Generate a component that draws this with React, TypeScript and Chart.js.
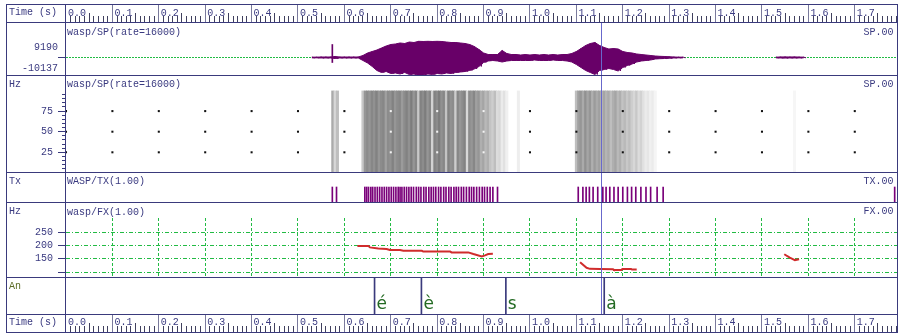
import { useEffect, useRef } from "react";
import { Chart, registerables } from "chart.js";

Chart.register(...registerables);

// ================= DATA =================
const majorTimes = [0, 0.1, 0.2, 0.3, 0.4, 0.5, 0.6, 0.7, 0.8, 0.9, 1.0, 1.1, 1.2, 1.3, 1.4, 1.5, 1.6, 1.7];
const majorLabels = ["0.0", "0.1", "0.2", "0.3", "0.4", "0.5", "0.6", "0.7", "0.8", "0.9", "1.0", "1.1", "1.2", "1.3", "1.4", "1.5", "1.6", "1.7"];
const timeMax = 1.791;
const cursorTime = 1.154;

// wasp/SP waveform envelope, 10 ms frames (upper / lower sample values)
const spFrameStart = 0.53;
const spFrameStep = 0.01;
const spUpper = [
  200, 200, 280, 280, 280, 570, 280, 280, 280, 280, 280,
  1140, 2560, 3410, 4260, 5400, 6530, 7380, 7670, 8240, 7950,
  8800, 8520, 9190, 9090, 9190, 9090, 9190, 9090, 8800, 8520,
  8520, 8240, 7950, 7380, 6250, 4540, 2560, 1700, 1700, 1700,
  3980, 2270, 1700, 1700, 1420, 1700, 1420, 1700, 1420, 1700,
  1420, 1700, 1420, 1700, 1700, 2270, 3410, 5110, 6820, 7950,
  8520, 6820, 5680, 4830, 5110, 4830, 3410, 2840, 2560, 1990,
  1700, 1420, 1140, 850, 680, 570, 450, 280, 200, 200,
];
const spLower = [
  -200, -200, -280, -280, -280, -570, -280, -280, -280, -280, -280,
  -1700, -3120, -5110, -7380, -8520, -7950, -9090, -8800, -9370, -8520,
  -9660, -9370, -10137, -9940, -9370, -9660, -9090, -9370, -8800, -9090,
  -8520, -8240, -7950, -7380, -6530, -5110, -2840, -1990, -1700, -1990,
  -2560, -1990, -1700, -1700, -1700, -1700, -1700, -1420, -1700, -1700,
  -1700, -1420, -1700, -1700, -1990, -2560, -3980, -5680, -7380, -8520,
  -9660, -7380, -6820, -6250, -6820, -7670, -5680, -4540, -3690, -2560,
  -1990, -1700, -1420, -850, -680, -570, -450, -280, -200, -200,
];
const spFrameStart2 = 1.53;
const spUpper2 = [200, 300, 340, 300, 340, 250, 200];
const spLower2 = [-200, -300, -340, -280, -300, -250, -200];
const spClickTime = 0.574;
const spClickRange = [-2840, 7380];
const spRangeLabels = [9190, -10137];

// Spectrogram: grey level of each 5 ms column
const specBin = 0.005;
const specStarts = [0.575, 0.64, 0.975, 1.1, 1.57];
const specGreyA = [170, 215, 190];
const specGreyB = [
  200, 150, 140, 150, 135, 145, 130, 150, 140, 135, 160, 140, 145, 130, 150, 140,
  135, 155, 140, 130, 145, 125, 150, 135, 200, 130, 140, 125, 150, 135, 210, 130,
  140, 125, 145, 135, 195, 130, 145, 140, 205, 135, 150, 140, 130, 215, 140, 150,
  135, 160, 150, 175, 165, 185, 175, 195, 205, 190, 220, 215, 235, 225, 240,
];
const specGreyC = [238];
const specGreyD = [
  190, 160, 150, 170, 145, 165, 150, 175, 155, 170, 160, 185, 165, 180, 170, 190,
  175, 165, 185, 175, 195, 185, 200, 190, 205, 215, 200, 220, 210, 225, 235, 230,
  240, 235, 245,
];
const specGreyE = [246];
const specTicks = [5, 10, 15, 20, 25, 30, 35, 40, 45, 50, 55, 60, 65, 70, 75, 80, 85, 90, 95];
const specLabelTicks = [25, 50, 75];
const specTopHz = 99.5;

// WASP/TX pulse marks (s)
const txTimes = [
  0.574, 0.583,
  0.644, 0.648, 0.652, 0.657, 0.661, 0.666, 0.671, 0.676, 0.681, 0.686, 0.691, 0.696,
  0.701, 0.706, 0.711, 0.716, 0.720, 0.724, 0.729, 0.734, 0.739, 0.744, 0.749, 0.755,
  0.760, 0.765, 0.771, 0.776, 0.782, 0.787, 0.792, 0.797, 0.803, 0.808, 0.814, 0.819,
  0.825, 0.830, 0.836, 0.841, 0.846, 0.852, 0.857, 0.863, 0.869, 0.874, 0.879, 0.885,
  0.891, 0.897, 0.902, 0.908, 0.914, 0.920, 0.930,
  1.104, 1.114, 1.121, 1.128, 1.136, 1.146, 1.157, 1.164, 1.172, 1.181, 1.190, 1.200,
  1.210, 1.219, 1.228, 1.239, 1.250, 1.260, 1.274, 1.287,
  1.786,
];

// wasp/FX pitch track (Hz), null = unvoiced gap
const fxTimes = [
  0.628, 0.652, 0.655, 0.673, 0.691, 0.698, 0.720, 0.727, 0.767, 0.770, 0.828, 0.831,
  0.867, 0.878, 0.896, 0.903, 0.910, 0.920, 1.0,
  1.108, 1.122, 1.129, 1.151, 1.179, 1.181, 1.197, 1.199, 1.218, 1.220, 1.230, 1.4,
  1.548, 1.560, 1.571, 1.580,
];
const fxValues = [
  198, 198, 193, 189, 187, 183, 183, 180, 180, 177, 177, 174,
  174, 168, 159, 163, 168, 169, null,
  137, 116, 112, 111, 110, 108, 108, 111, 111, 109, 109, null,
  167, 154, 145, 148,
];
const fxTicks = [100, 150, 200, 250];

// Annotations
const annTimes = [0.665, 0.766, 0.948, 1.16];
const annLabels = ["é", "è", "s", "à"];

// ================= STYLE / LAYOUT =================
const MONO = '"Liberation Mono", "DejaVu Sans Mono", monospace';
const NAVY = "#3a3a7c";
const TEXT = "#3a3a80";
const GREEN = "#22bb44";
const WAVE = "#680068";
const PULSE = "#7a007a";
const RED = "#d02c2c";
const CURSOR = "#6868cc";
const ANN_GREEN = "#236a23";
const AN_LABEL = "#5a6a24";
const RULER_MAJOR = "#7a7a9c";
const RULER_MINOR = "#40405e";

const PAGE_W = 898;
const FRAME_L = 6;
const FRAME_R = 897;
const FRAME_T = 4;
const FRAME_B = 332;
const DIV_X = 65;
const AXIS_W = 60;
const CANVAS_W = FRAME_R - FRAME_L;
const ROW_LINES = [4, 22, 75, 172, 202, 277, 314, 332];

Chart.defaults.font.family = MONO;
Chart.defaults.font.size = 10;

// fixed axis width, and no extra label padding so the plot area fills the panel
const fixWidth = (w: number) => (s: any) => {
  s.width = w;
  s.paddingTop = 0;
  s.paddingBottom = 0;
};

function xScale(): any {
  return { type: "linear", min: 0, max: timeMax, offset: false, display: false, grid: { offset: false } };
}

function yHidden(min: number, max: number): any {
  return {
    type: "linear",
    min,
    max,
    display: true,
    afterFit: fixWidth(AXIS_W),
    ticks: { display: false },
    grid: { display: false },
    border: { display: false },
  };
}

function baseOptions(scales: any, padTop = 0): any {
  return {
    responsive: false,
    maintainAspectRatio: false,
    animation: false,
    devicePixelRatio: 1,
    events: [],
    layout: { autoPadding: false, padding: { left: 0, right: 0, top: padTop, bottom: 0 } },
    plugins: { legend: { display: false }, tooltip: { enabled: false }, title: { display: false } },
    scales,
  };
}

const cursorPlugin = {
  id: "cursorLine",
  afterDatasetsDraw(chart: any) {
    const { ctx } = chart;
    const px = Math.round(chart.scales.x.getPixelForValue(cursorTime)) + 0.5;
    ctx.save();
    ctx.strokeStyle = CURSOR;
    ctx.lineWidth = 1;
    ctx.beginPath();
    ctx.moveTo(px, 0);
    ctx.lineTo(px, chart.height);
    ctx.stroke();
    ctx.restore();
  },
};

function makeRulerPlugin(labelBaseline: number) {
  return {
    id: "timeRuler",
    afterDraw(chart: any) {
      const { ctx } = chart;
      const xs = chart.scales.x;
      const h = chart.height;
      ctx.save();
      ctx.lineWidth = 1;
      for (let i = 1; i / 100 <= timeMax; i++) {
        const px = Math.floor(xs.getPixelForValue(i / 100)) + 0.5;
        const major = i % 10 === 0;
        const len = major ? h : i % 5 === 0 ? 9 : 6;
        ctx.strokeStyle = major ? RULER_MAJOR : RULER_MINOR;
        ctx.beginPath();
        ctx.moveTo(px, h);
        ctx.lineTo(px, h - len);
        ctx.stroke();
      }
      ctx.fillStyle = TEXT;
      ctx.font = `10px ${MONO}`;
      ctx.textAlign = "left";
      ctx.textBaseline = "alphabetic";
      majorTimes.forEach((t, k) => ctx.fillText(majorLabels[k], xs.getPixelForValue(t) + 2, labelBaseline));
      ctx.restore();
    },
  };
}

const annLabelPlugin = {
  id: "annLabels",
  afterDatasetsDraw(chart: any) {
    const { ctx } = chart;
    const xs = chart.scales.x;
    ctx.save();
    ctx.fillStyle = ANN_GREEN;
    ctx.font = '17px "DejaVu Sans", sans-serif';
    ctx.textAlign = "left";
    ctx.textBaseline = "alphabetic";
    annTimes.forEach((t, i) => ctx.fillText(annLabels[i], xs.getPixelForValue(t) + 2, 31.3));
    ctx.restore();
  },
};

// ---------- chart builders ----------
function rulerConfig(labelBaseline: number): any {
  return {
    type: "scatter",
    data: { datasets: [] },
    options: baseOptions({ x: xScale(), y: yHidden(0, 1) }),
    plugins: [makeRulerPlugin(labelBaseline)],
  };
}

function spConfig(): any {
  const env = (start: number, arr: number[]) => arr.map((v, i) => ({ x: start + i * spFrameStep, y: v }));
  const zig: any[] = [];
  spUpper.forEach((u, i) => {
    const t = spFrameStart + i * spFrameStep;
    zig.push({ x: t, y: u }, { x: t + spFrameStep / 2, y: spLower[i] });
  });
  zig.push({ x: 1.43, y: null });
  spUpper2.forEach((u, i) => {
    const t = spFrameStart2 + i * spFrameStep;
    zig.push({ x: t, y: u }, { x: t + spFrameStep / 2, y: spLower2[i] });
  });
  const pxPerUnit = 1 / 568;
  const base = 34.5;
  const h = 52;
  const envStyle = { borderColor: WAVE, backgroundColor: WAVE, borderWidth: 1, pointRadius: 0, tension: 0 };
  return {
    type: "line",
    data: {
      datasets: [
        { ...envStyle, data: env(spFrameStart, spUpper), fill: "+1" },
        { ...envStyle, data: env(spFrameStart, spLower), fill: false },
        { ...envStyle, data: env(spFrameStart2, spUpper2), fill: "+1" },
        { ...envStyle, data: env(spFrameStart2, spLower2), fill: false },
        { ...envStyle, data: zig, fill: false, spanGaps: false },
        {
          type: "bar",
          data: [{ x: spClickTime, y: spClickRange }],
          backgroundColor: WAVE,
          borderWidth: 0,
          barThickness: 1,
          grouped: false,
        },
      ],
    },
    options: baseOptions({
      x: xScale(),
      y: {
        type: "linear",
        min: -(h - base) / pxPerUnit,
        max: base / pxPerUnit,
        afterFit: fixWidth(AXIS_W),
        afterBuildTicks: (s: any) => {
          s.ticks = [{ value: spRangeLabels[1] * 0.6 }, { value: 0 }, { value: spRangeLabels[0] * 0.6 }];
        },
        ticks: {
          autoSkip: false,
          padding: 0,
          color: TEXT,
          font: { family: MONO, size: 10 },
          callback: (v: number) => (v > 0 ? String(spRangeLabels[0]) : v < 0 ? String(spRangeLabels[1]) : ""),
        },
        grid: {
          tickLength: 8,
          color: (c: any) => (c.tick && c.tick.value === 0 ? GREEN : "rgba(0,0,0,0)"),
          tickColor: (c: any) => (c.tick && c.tick.value === 0 ? NAVY : "rgba(0,0,0,0)"),
          tickBorderDash: [],
        },
        border: { display: false, dash: [2, 1] },
      },
    }),
    plugins: [cursorPlugin],
  };
}

function specConfig(): any {
  const groups = [specGreyA, specGreyB, specGreyC, specGreyD, specGreyE];
  const cols: { x: number; g: number }[] = [];
  groups.forEach((g, k) => g.forEach((v, i) => cols.push({ x: specStarts[k] + i * specBin, g: v })));
  const dots = majorTimes.flatMap((t) => specLabelTicks.map((v) => ({ x: t, y: v })));
  const greyAt = (t: number) => {
    let best = 255;
    cols.forEach((c) => {
      if (Math.abs(c.x - t) < specBin / 2) best = c.g;
    });
    return best;
  };
  const zero = 96.9;
  const pxPerHz = 0.824;
  const h = 96;
  const yMin = (zero - h) / pxPerHz;
  const yMax = zero / pxPerHz;
  return {
    type: "bar",
    data: {
      datasets: [
        {
          type: "scatter",
          data: dots,
          pointStyle: "rect",
          pointRadius: 1.45,
          borderWidth: 0,
          backgroundColor: dots.map((d) => (greyAt(d.x) < 170 ? "#f4f4f4" : "#111111")),
          order: 0,
          yAxisID: "y",
        },
        {
          type: "bar",
          data: cols.map((c) => ({ x: c.x, y: [0, specTopHz] })),
          backgroundColor: cols.map((c) => `rgb(${c.g},${c.g},${c.g})`),
          borderWidth: 0,
          barThickness: 2.4,
          grouped: false,
          order: 1,
          yAxisID: "y",
        },
      ],
    },
    options: baseOptions({
      x: xScale(),
      y: {
        type: "linear",
        position: "left",
        weight: 1,
        min: yMin,
        max: yMax,
        afterFit: fixWidth(AXIS_W),
        afterBuildTicks: (s: any) => {
          s.ticks = specLabelTicks.map((v) => ({ value: v }));
        },
        ticks: { autoSkip: false, padding: 5, color: TEXT, font: { family: MONO, size: 10 } },
        grid: { drawOnChartArea: false, tickLength: 8, tickColor: NAVY, tickBorderDash: [] },
        border: { display: false },
      },
      y2: {
        type: "linear",
        position: "left",
        weight: 0,
        min: yMin,
        max: yMax,
        afterFit: fixWidth(0),
        afterBuildTicks: (s: any) => {
          s.ticks = specTicks.map((v) => ({ value: v }));
        },
        ticks: { display: false },
        grid: { drawOnChartArea: false, tickLength: 4, tickColor: NAVY, tickBorderDash: [] },
        border: { display: false },
      },
    }),
    plugins: [cursorPlugin],
  };
}

function txConfig(): any {
  return {
    type: "bar",
    data: {
      datasets: [
        {
          data: txTimes.map((t) => ({ x: t, y: 1 })),
          backgroundColor: PULSE,
          borderWidth: 0,
          barThickness: 1,
          grouped: false,
        },
      ],
    },
    options: baseOptions({ x: xScale(), y: yHidden(0, 29 / 15) }),
    plugins: [cursorPlugin],
  };
}

function fxConfig(): any {
  const pxPerHz = 0.2647;
  const y250 = 14.3;
  const areaH = 59;
  return {
    type: "line",
    data: {
      datasets: [
        {
          data: fxTimes.map((t, i) => ({ x: t, y: fxValues[i] })),
          borderColor: RED,
          borderWidth: 2,
          pointRadius: 0,
          tension: 0,
          spanGaps: false,
        },
      ],
    },
    options: baseOptions(
      {
        x: {
          type: "linear",
          min: 0,
          max: timeMax,
          offset: false,
          display: true,
          afterFit: (s: any) => {
            s.height = 0;
            s.paddingLeft = 0;
            s.paddingRight = 0;
          },
          afterBuildTicks: (s: any) => {
            s.ticks = majorTimes.slice(1).map((v) => ({ value: v }));
          },
          ticks: { display: false },
          grid: { color: GREEN, drawTicks: false, offset: false },
          border: { display: false, dash: [3, 2] },
        },
        y: {
          type: "linear",
          min: 250 - (areaH - y250) / pxPerHz,
          max: 250 + y250 / pxPerHz,
          afterFit: fixWidth(AXIS_W),
          afterBuildTicks: (s: any) => {
            s.ticks = fxTicks.map((v) => ({ value: v }));
          },
          ticks: {
            autoSkip: false,
            padding: 5,
            color: TEXT,
            font: { family: MONO, size: 10 },
            callback: (v: number) => (v === fxTicks[0] ? "" : String(v)),
          },
          grid: { color: GREEN, tickColor: NAVY, tickLength: 8, tickBorderDash: [] },
          border: { display: false, dash: [4, 2, 1, 2] },
        },
      },
      15
    ),
    plugins: [cursorPlugin],
  };
}

function anConfig(): any {
  return {
    type: "bar",
    data: {
      datasets: [
        {
          data: annTimes.map((t) => ({ x: t, y: 1 })),
          backgroundColor: NAVY,
          borderWidth: 0,
          barThickness: 1,
          grouped: false,
        },
      ],
    },
    options: baseOptions({ x: xScale(), y: yHidden(0, 1) }),
    plugins: [cursorPlugin, annLabelPlugin],
  };
}

// ---------- components ----------
function PanelChart({ top, height, build }: { top: number; height: number; build: () => any }) {
  const ref = useRef<HTMLCanvasElement>(null);
  useEffect(() => {
    const chart = new Chart(ref.current as HTMLCanvasElement, build());
    return () => chart.destroy();
  }, []);
  return (
    <canvas
      ref={ref}
      width={CANVAS_W}
      height={height}
      style={{ position: "absolute", left: FRAME_L, top, width: CANVAS_W, height, display: "block" }}
    />
  );
}

function Txt({ x, right, base, text, color = TEXT }: { x?: number; right?: number; base: number; text: string; color?: string }) {
  const style: any = {
    position: "absolute",
    top: base - 7.66,
    font: `10px ${MONO}`,
    lineHeight: "10px",
    whiteSpace: "pre",
    color,
  };
  if (right !== undefined) style.right = PAGE_W - right;
  else style.left = x;
  return <div style={style}>{text}</div>;
}

export default function App() {
  return (
    <div style={{ position: "absolute", left: 0, top: 0, width: PAGE_W, height: 333, background: "#ffffff", overflow: "hidden" }}>
      <PanelChart top={5} height={17} build={() => rulerConfig(10.5)} />
      <PanelChart top={23} height={52} build={spConfig} />
      <PanelChart top={76} height={96} build={specConfig} />
      <PanelChart top={173} height={29} build={txConfig} />
      <PanelChart top={203} height={74} build={fxConfig} />
      <PanelChart top={278} height={36} build={anConfig} />
      <PanelChart top={315} height={17} build={() => rulerConfig(9.5)} />

      {ROW_LINES.map((y) => (
        <div key={"h" + y} style={{ position: "absolute", left: FRAME_L, top: y, width: FRAME_R - FRAME_L + 1, height: 1, background: NAVY }} />
      ))}
      {[FRAME_L, DIV_X, FRAME_R].map((x) => (
        <div key={"v" + x} style={{ position: "absolute", left: x, top: FRAME_T, width: 1, height: FRAME_B - FRAME_T + 1, background: NAVY }} />
      ))}

      <Txt x={9} base={15.7} text="Time (s)" />
      <Txt x={67} base={35.7} text="wasp/SP(rate=16000)" />
      <Txt right={893.5} base={35.3} text="SP.00" />
      <Txt x={9} base={87.3} text="Hz" />
      <Txt x={67} base={87.3} text="wasp/SP(rate=16000)" />
      <Txt right={893.5} base={87.5} text="SP.00" />
      <Txt x={9} base={185} text="Tx" />
      <Txt x={67} base={185} text="WASP/TX(1.00)" />
      <Txt right={893.5} base={184.3} text="TX.00" />
      <Txt x={9} base={215} text="Hz" />
      <Txt x={67} base={215.3} text="wasp/FX(1.00)" />
      <Txt right={893.5} base={215} text="FX.00" />
      <Txt x={9} base={289.3} text="An" color={AN_LABEL} />
      <Txt x={9} base={325.3} text="Time (s)" />
    </div>
  );
}
